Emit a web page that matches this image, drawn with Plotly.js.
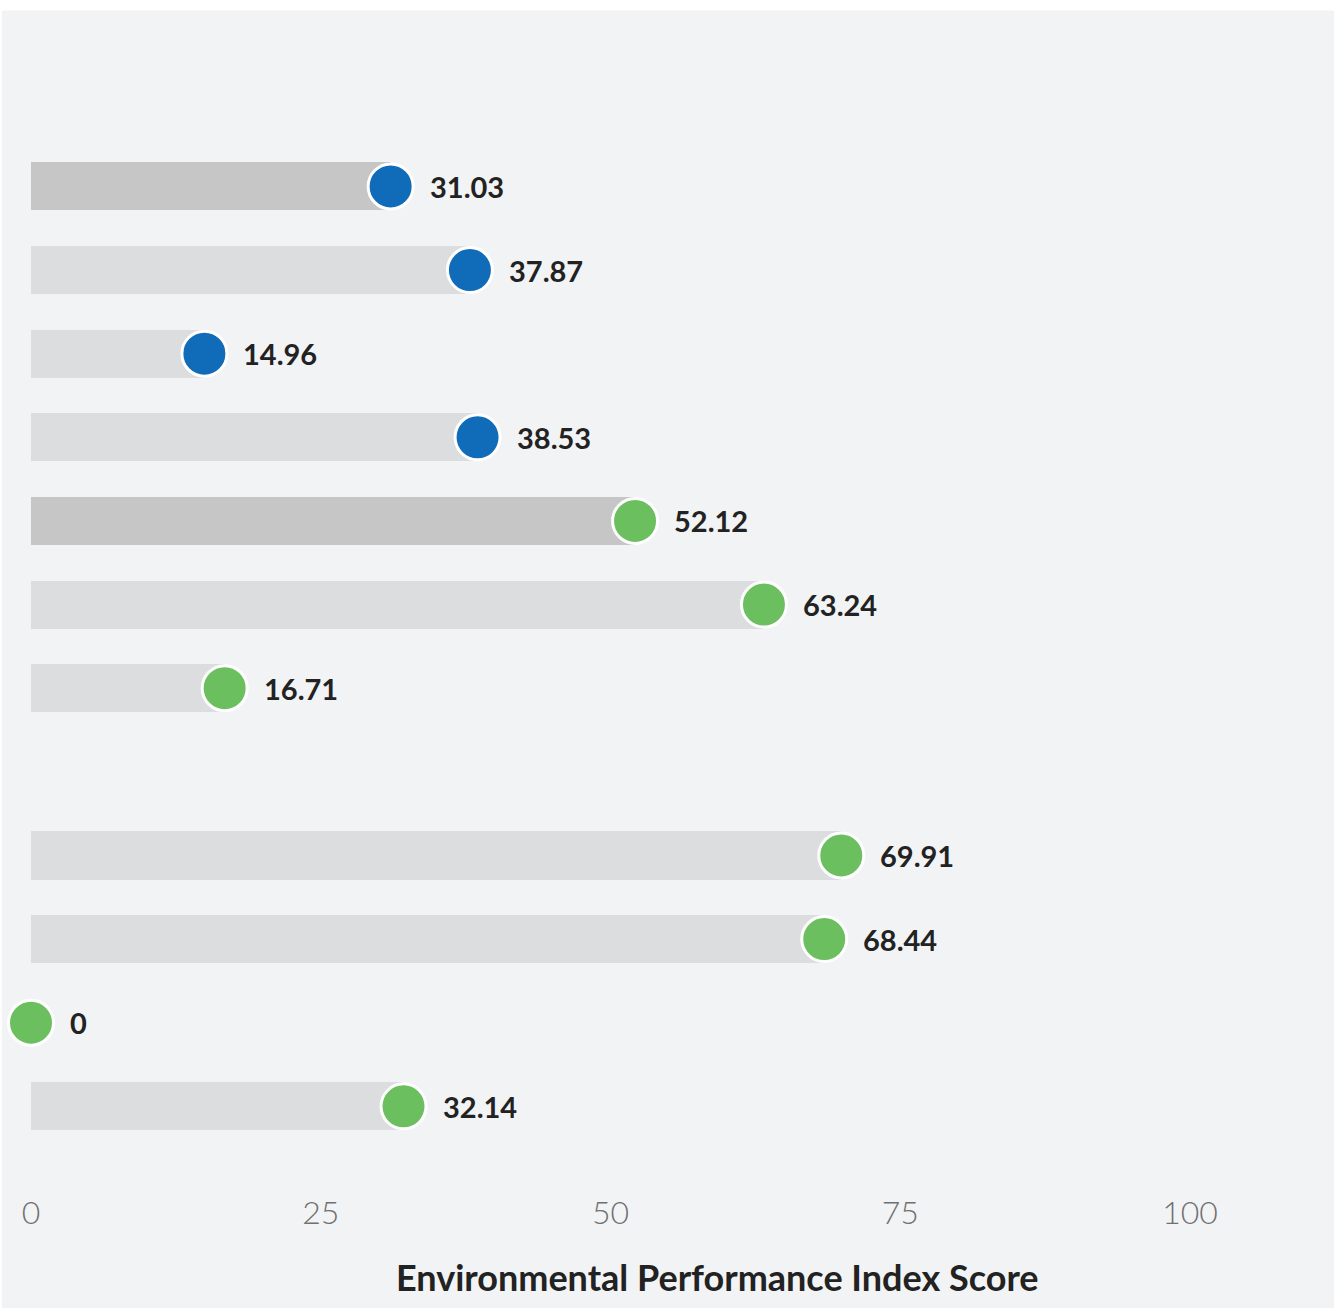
<!DOCTYPE html>
<html>
<head>
<meta charset="utf-8">
<script src="https://cdn.plot.ly/plotly-3.0.1.min.js"></script>
<style>html,body{margin:0;padding:0;background:#fff;}#chart{width:1342px;height:1308px;}</style>
</head>
<body>
<div id="chart"></div>
<script>
// Rows from top to bottom; "gap" is an empty spacer row
var categories = ["r1", "r2", "r3", "r4", "r5", "r6", "r7", "gap", "r8", "r9", "r10", "r11"];
var rowCats    = ["r1", "r2", "r3", "r4", "r5", "r6", "r7", "r8", "r9", "r10", "r11"];
var scores     = [31.03, 37.87, 14.96, 38.53, 52.12, 63.24, 16.71, 69.91, 68.44, 0, 32.14];
var scoreText  = ["31.03", "37.87", "14.96", "38.53", "52.12", "63.24", "16.71", "69.91", "68.44", "0", "32.14"];
var groups     = ["blue", "blue", "blue", "blue", "green", "green", "green", "green", "green", "green", "green"];
var highlight  = [true, false, false, false, true, false, false, false, false, false, false];
var xTicks     = [0, 25, 50, 75, 100];
var xTickText  = ["0", "25", "50", "75", "100"];
var axisTitle  = "Environmental Performance Index Score";

var dotColor = {blue: "#106cb8", green: "#6cbf5f"};
var barColors = highlight.map(function(h){ return h ? "#c6c6c6" : "#dcdddf"; });
var dotColors = groups.map(function(g){ return dotColor[g]; });

var bars = {
  type: "bar", orientation: "h",
  x: scores, y: rowCats,
  width: 0.575,
  marker: {color: barColors, line: {width: 0}},
  hoverinfo: "skip"
};
var dots = {
  type: "scatter", mode: "markers",
  x: scores, y: rowCats,
  cliponaxis: false,
  marker: {size: 45, color: dotColors, line: {color: "#ffffff", width: 3}},
  hoverinfo: "x"
};

var annotations = scores.map(function(v, i){
  return {
    x: v, y: rowCats[i], xref: "x", yref: "y",
    text: scoreText[i], showarrow: false,
    xanchor: "left", yanchor: "middle", xshift: 37, yshift: 0,
    font: {family: "Lato, 'Open Sans', sans-serif", size: 29, color: "#222222", weight: 700}
  };
});
annotations.push({
  x: 0.592, y: -0.077, xref: "paper", yref: "paper",
  text: axisTitle, showarrow: false, xanchor: "center", yanchor: "middle",
  font: {family: "Lato, 'Open Sans', sans-serif", size: 36, color: "#222222", weight: 700}
});

var layout = {
  width: 1342, height: 1308,
  margin: {l: 31, r: 152, t: 61, b: 118, pad: 0},
  paper_bgcolor: "#f2f3f5",
  plot_bgcolor: "#f2f3f5",
  showlegend: false,
  bargap: 0,
  xaxis: {
    range: [0, 100], tickvals: xTicks, ticktext: xTickText,
    showgrid: false, zeroline: false, showline: false,
    ticks: "", ticklen: 0, ticklabelstandoff: 1,
    tickfont: {family: "Lato, 'Open Sans', sans-serif", size: 32, color: "#707070", weight: 300},
    fixedrange: true
  },
  yaxis: {
    type: "category", categoryorder: "array", categoryarray: categories,
    range: [12, -1.5], autorange: false,
    showticklabels: false, showgrid: false, zeroline: false, showline: false, ticks: "",
    fixedrange: true
  },
  annotations: annotations,
  shapes: [
    {type: "rect", xref: "paper", yref: "paper", x0: -0.05, x1: 1.2, y0: 1.0448, y1: 1.1, fillcolor: "#ffffff", line: {width: 0}, layer: "above"},
    {type: "rect", xref: "paper", yref: "paper", x0: -0.05, x1: -0.0251, y0: -0.2, y1: 1.1, fillcolor: "#ffffff", line: {width: 0}, layer: "above"},
    {type: "rect", xref: "paper", yref: "paper", x0: 1.1243, x1: 1.2, y0: -0.2, y1: 1.1, fillcolor: "#ffffff", line: {width: 0}, layer: "above"}
  ]
};

Plotly.newPlot("chart", [bars, dots], layout, {displayModeBar: false, staticPlot: true});
</script>
</body>
</html>
